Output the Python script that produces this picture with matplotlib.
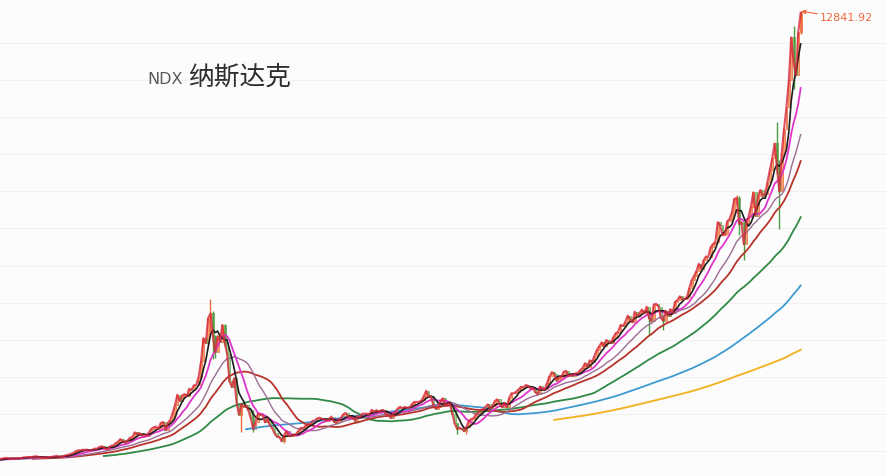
import numpy as np
import pandas as pd
import matplotlib
matplotlib.use("Agg")
import matplotlib.pyplot as plt

# monthly bars, Jul 1991 - Dec 2020 (NDX level)
months = pd.date_range("1991-07-01", "2020-12-01", freq="MS")
first_open = 274

closes = [
    290, 303, 300, 313, 302, 331,                                        # 1991 H2
    352, 350, 327, 311, 318, 300, 310, 297, 309, 322, 347, 360,          # 1992
    368, 348, 356, 335, 356, 360, 358, 378, 385, 390, 385, 398,          # 1993
    410, 404, 381, 375, 383, 361, 374, 400, 404, 425, 403, 404,          # 1994
    410, 440, 455, 479, 494, 545, 576, 576, 595, 590, 596, 576,          # 1995
    585, 625, 620, 665, 690, 665, 610, 640, 700, 715, 780, 821,          # 1996
    890, 840, 790, 850, 930, 940, 1080, 1030, 1060, 990, 1005, 991,      # 1997
    1075, 1175, 1220, 1240, 1175, 1340, 1370, 1140, 1345, 1420, 1615, 1836,  # 1998
    2130, 1950, 2105, 2150, 2090, 2296, 2270, 2390, 2410, 2630, 3060, 3708,  # 1999
    3570, 4270, 4400, 3775, 3320, 3765, 3610, 4080, 3570, 3280, 2510, 2342,  # 2000
    2590, 1910, 1575, 1860, 1800, 1830, 1690, 1470, 1170, 1370, 1600, 1577,  # 2001
    1550, 1360, 1450, 1280, 1200, 1050, 960, 960, 830, 990, 1115, 984,       # 2002
    980, 1000, 1020, 1110, 1200, 1200, 1250, 1320, 1300, 1400, 1410, 1468,   # 2003
    1490, 1460, 1440, 1400, 1450, 1520, 1380, 1350, 1410, 1480, 1580, 1621,  # 2004
    1520, 1500, 1480, 1410, 1540, 1500, 1600, 1600, 1600, 1580, 1710, 1645,  # 2005
    1700, 1650, 1700, 1700, 1580, 1575, 1480, 1580, 1650, 1750, 1790, 1757,  # 2006
    1790, 1760, 1770, 1870, 1930, 1930, 1930, 1970, 2090, 2240, 2070, 2085,  # 2007
    1840, 1740, 1780, 1950, 2030, 1840, 1870, 1880, 1600, 1330, 1180, 1212,  # 2008
    1180, 1110, 1240, 1400, 1450, 1480, 1580, 1630, 1710, 1720, 1790, 1860,  # 2009
    1740, 1820, 1960, 2000, 1860, 1780, 1900, 1780, 2040, 2170, 2170, 2218,  # 2010
    2280, 2350, 2340, 2400, 2380, 2300, 2330, 2200, 2140, 2360, 2290, 2278,  # 2011
    2460, 2640, 2760, 2720, 2520, 2610, 2630, 2770, 2800, 2650, 2680, 2661,  # 2012
    2730, 2740, 2820, 2880, 3010, 2910, 3090, 3050, 3220, 3380, 3480, 3592,  # 2013
    3490, 3660, 3600, 3580, 3740, 3850, 3890, 4080, 4050, 4160, 4340, 4236,  # 2014
    4150, 4450, 4330, 4410, 4510, 4400, 4590, 4270, 4180, 4650, 4670, 4593,  # 2015
    4280, 4200, 4480, 4340, 4520, 4420, 4730, 4770, 4880, 4810, 4800, 4864,  # 2016
    5110, 5330, 5440, 5580, 5790, 5650, 5880, 5990, 5980, 6250, 6340, 6396,  # 2017
    6950, 6870, 6580, 6610, 6970, 7040, 7230, 7600, 7630, 6910, 6950, 6329,  # 2018
    6910, 7100, 7380, 7780, 7130, 7670, 7850, 7690, 7750, 8080, 8400, 8733,  # 2019
    9150, 8460, 7810, 8890, 9560, 10160, 10910, 12110, 11420, 11050, 12270, 12800,  # 2020
]

# months whose shadows stand out on the chart
wick_dates = ["2000-03", "2000-04", "2000-05", "2000-09", "2001-04", "2001-09",
              "2002-10", "2008-11", "2009-03", "2015-08", "2016-02", "2018-09",
              "2018-10", "2018-12", "2020-02", "2020-03", "2020-09", "2020-12"]
wick_highs = [4816, 4470, 3800, 4100, 1900, 1700,
              1000, 1350, 1250, 4500, 4300, 7700,
              7690, 6950, 9760, 8700, 12440, 12841.92]
wick_lows = [3850, 3140, 3150, 3500, 1090, 1090,
             795, 1040, 1040, 3790, 3950, 7400,
             6600, 5895, 8300, 6771, 10680, 12200]

peak_label = "12841.92"
title_code = "NDX"
title_name = "纳斯达克"

ma_windows = [250, 120, 60, 30, 20, 10, 5]
ma_colors = ["#f2b428", "#3d9bd0", "#2f8a45", "#b8332a", "#9a6e92", "#dd35c8", "#1e1e1e"]
ma_widths = [1.4, 1.3, 1.3, 1.3, 1.0, 1.3, 1.2]

# ---------------------------------------------------------------------------
close_s = pd.Series(closes, dtype=float)
open_s = close_s.shift(1).fillna(first_open)
idx = np.arange(len(close_s))
up = close_s >= open_s

fig = plt.figure(figsize=(8.86, 4.76), dpi=100)
fig.patch.set_facecolor("#fdfcfd")
ax = fig.add_axes([0, 0, 1, 1])
ax.set_facecolor("#fdfcfd")

# faint horizontal grid
ymin, ymax = -140, 13156
for ypx in np.arange(43, 476, 37.1):
    v = ymax - ypx / 476 * (ymax - ymin)
    ax.axhline(v, color="#f1eff1", lw=0.7, zorder=0)

# candle bodies
body_bottom = np.minimum(open_s, close_s)
body_h = np.abs(close_s - open_s)
ax.bar(idx[up], body_h[up], bottom=body_bottom[up], width=0.8,
       color="#f4a46e", edgecolor="#ec6a3c", linewidth=0.5, zorder=2)
ax.bar(idx[~up], body_h[~up], bottom=body_bottom[~up], width=0.8,
       color="#a4d08e", edgecolor="#5fa64f", linewidth=0.5, zorder=2)

# shadows
pos = {d.strftime("%Y-%m"): i for i, d in enumerate(months)}
for d, hi, lo in zip(wick_dates, wick_highs, wick_lows):
    i = pos[d]
    c = "#ec6a3c" if up[i] else "#4f9a45"
    ax.vlines(i, lo, hi, color=c, lw=1.0, zorder=2)

# moving averages
for w, c, lw in zip(ma_windows, ma_colors, ma_widths):
    ax.plot(idx, close_s.rolling(w).mean(), color=c, lw=lw, zorder=3)
ax.plot(idx, close_s, color="#d8283a", lw=1.5, zorder=4, alpha=0.8)

# high marker
top_i = pos[wick_dates[-1]]
ax.annotate(peak_label, xy=(top_i + 0.2, wick_highs[-1]),
            xytext=(top_i + 8.2, wick_highs[-1] - 200),
            color="#ee6a3a", fontsize=8, va="center", ha="left",
            arrowprops=dict(arrowstyle="-|>", color="#ee6a3a", lw=0.8,
                            mutation_scale=6, shrinkA=0, shrinkB=0))

ax.set_xlim(15.2, 389)
ax.set_ylim(ymin, ymax)
ax.axis("off")

fig.text(147 / 886, 1 - 79 / 476, title_code, fontsize=11.5, color="#5a5a5a",
         va="center", ha="left", family=["DejaVu Sans"])
fig.text(188 / 886, 1 - 78 / 476, title_name, fontsize=18.5, color="#2e2e2e",
         va="center", ha="left", family=["Noto Sans CJK SC", "DejaVu Sans"])

fig.savefig("out.png", dpi=100, facecolor=fig.get_facecolor())
